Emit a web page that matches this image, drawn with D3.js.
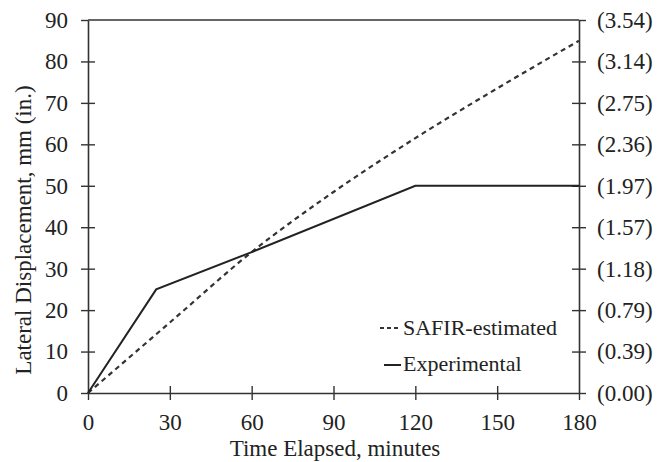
<!DOCTYPE html>
<html>
<head>
<meta charset="utf-8">
<script src="https://cdn.jsdelivr.net/npm/d3@7"></script>
<style>
  html, body { margin: 0; padding: 0; background: #fff; }
</style>
</head>
<body>
<svg id="chart" width="657" height="462"></svg>
<script>
// ---- data ----
const experimentalTime = [0, 25, 60, 120, 180];
const experimentalDisp = [0, 25, 34, 50, 50];
const safirTime = [0, 30, 60, 90, 120, 150, 180];
const safirDisp = [0, 17, 34, 48.5, 61.5, 73.5, 85];
const xTicks = [0, 30, 60, 90, 120, 150, 180];
const yTicks = [0, 10, 20, 30, 40, 50, 60, 70, 80, 90];
const yRightLabels = ["(0.00)", "(0.39)", "(0.79)", "(1.18)", "(1.57)", "(1.97)", "(2.36)", "(2.75)", "(3.14)", "(3.54)"];
const seriesNames = ["SAFIR-estimated", "Experimental"];

const FONT = "'Liberation Serif', 'Times New Roman', Times, 'DejaVu Serif', serif";
const svg = d3.select("#chart");
const mLeft = 88, mRight = 579, mTop = 20, mBottom = 393;
const x = d3.scaleLinear().domain([0, 180]).range([mLeft, mRight]);
const y = d3.scaleLinear().domain([0, 90]).range([mBottom, mTop]);
const ink = "#333";
const fs = 23;

const xAxis = svg.append("g").attr("transform", `translate(0,${mBottom})`)
  .call(d3.axisBottom(x).tickValues(xTicks).tickSize(7).tickSizeOuter(0).tickPadding(14));
const yAxis = svg.append("g").attr("transform", `translate(${mLeft},0)`)
  .call(d3.axisLeft(y).tickValues(yTicks).tickSize(7).tickSizeOuter(0).tickPadding(13));
const yAxisR = svg.append("g").attr("transform", `translate(${mRight},0)`)
  .call(d3.axisRight(y).tickValues(yTicks).tickSize(7).tickSizeOuter(0).tickPadding(11)
    .tickFormat((d, i) => yRightLabels[i]));

[xAxis, yAxis, yAxisR].forEach(g => {
  g.attr("font-family", null).attr("font-size", null);
  g.select(".domain").attr("stroke", ink).attr("stroke-width", 1.6);
  g.selectAll(".tick line").attr("stroke", ink).attr("stroke-width", 1.4);
  g.selectAll(".tick text").style("font-family", FONT).style("font-size", fs + "px").attr("fill", "#222");
});
xAxis.selectAll(".tick line").attr("y1", -7);
yAxis.selectAll(".tick line").attr("x1", 7);
yAxisR.selectAll(".tick line").attr("x1", -7);
yAxis.selectAll(".tick").filter(d => d === 0 || d === 90).select("line").attr("x1", 0);
yAxisR.selectAll(".tick").filter(d => d === 0 || d === 90).select("line").attr("x1", 0);
xAxis.selectAll(".tick").filter(d => d === 0 || d === 180).select("line").attr("y1", 0);

svg.append("line").attr("x1", x(0)).attr("x2", x(180)).attr("y1", y(90)).attr("y2", y(90))
  .attr("stroke", ink).attr("stroke-width", 1.6);

const safir = safirTime.map((t, i) => [t, safirDisp[i]]);
const expt = experimentalTime.map((t, i) => [t, experimentalDisp[i]]);

svg.append("path").datum(safir)
  .attr("d", d3.line().x(d => x(d[0])).y(d => y(d[1])).curve(d3.curveMonotoneX))
  .attr("fill", "none").attr("stroke", "#333").attr("stroke-width", 2.2).attr("stroke-dasharray", "5,4");
svg.append("path").datum(expt)
  .attr("d", d3.line().x(d => x(d[0])).y(d => y(d[1])))
  .attr("fill", "none").attr("stroke", "#222").attr("stroke-width", 2);

const txt = (sel, size) => sel.style("font-family", FONT).style("font-size", (size || fs) + "px").attr("fill", "#222");

const leg = svg.append("g");
leg.append("line").attr("x1", 380).attr("x2", 401).attr("y1", 328).attr("y2", 328)
  .attr("stroke", "#333").attr("stroke-width", 2).attr("stroke-dasharray", "4,3");
leg.append("text").attr("x", 403).attr("y", 335).call(txt, 22).text(seriesNames[0]);
leg.append("line").attr("x1", 384).attr("x2", 401).attr("y1", 365).attr("y2", 365)
  .attr("stroke", "#222").attr("stroke-width", 2);
leg.append("text").attr("x", 403).attr("y", 371).call(txt, 22).text(seriesNames[1]);

svg.append("text").attr("x", 335).attr("y", 456).attr("text-anchor", "middle")
  .call(txt).text("Time Elapsed, minutes");
svg.append("text").attr("transform", `translate(31,230) rotate(-90)`)
  .attr("text-anchor", "middle").call(txt).text("Lateral Displacement, mm (in.)");
</script>
</body>
</html>
